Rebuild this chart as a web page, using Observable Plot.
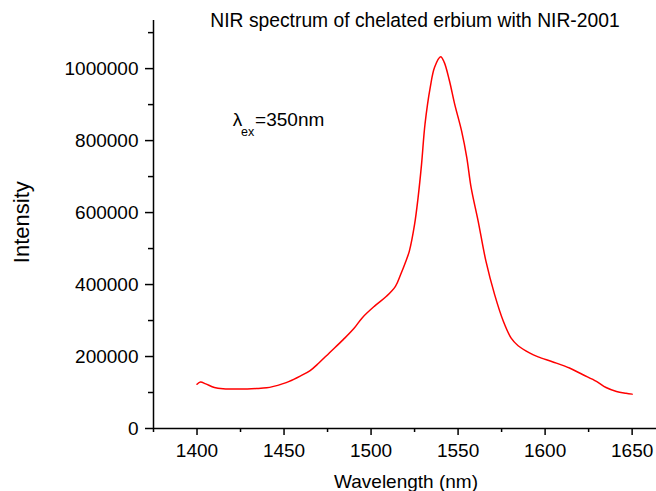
<!DOCTYPE html>
<html><head><meta charset="utf-8">
<script src="https://cdn.jsdelivr.net/npm/d3@7"></script>
<script src="https://cdn.jsdelivr.net/npm/@observablehq/plot@0.6"></script>
<style>html,body{margin:0;padding:0;background:#fff;}</style>
</head><body><div id="chart"></div>
<script>
const wavelength = [1400,1402,1405,1410,1415,1425,1434,1440,1444,1449,1453,1459,1465,1470,1476,1484,1490,1495,1502,1509,1514,1517,1520,1522,1525,1527,1529,1531,1534,1536.5,1540,1542,1545,1548,1552,1555,1557.5,1561.5,1566,1571,1576,1580.5,1584.5,1591,1596,1604.5,1614,1621.5,1629.5,1635,1641,1646.5,1650];
const intensity = [123000,129000,124000,114000,110500,109500,111000,113000,117000,124000,131000,145000,161000,182000,210000,247000,277000,308000,340000,368000,395000,428000,465000,493000,567000,641000,734000,846000,948000,1004000,1033000,1018000,967000,902000,827000,753000,669000,577000,465000,372000,298000,251000,230000,210000,199000,185000,168000,150000,131000,114000,103000,98000,95500];
const xMajorTicks = [1400,1450,1500,1550,1600,1650];
const xMinorTicks = [1375,1425,1475,1525,1575,1625];
const yMajorTicks = [0,200000,400000,600000,800000,1000000];
const yMinorTicks = [100000,300000,500000,700000,900000,1100000];
const titleText = ["NIR spectrum of chelated erbium with NIR-2001"];
const xLabel = ["Wavelength (nm)"];
const yLabel = ["Intensity"];
const annotX = [1420.5];
const annotY = [841200];
const annotMain = ["\u03bb"];
const annotSub = ["ex"];
const annotRest = ["=350nm"];

const data = wavelength.map((w, i) => ({w, v: intensity[i]}));
const annot = annotX.map((x, i) => ({x, y: annotY[i]}));
const font = "'Liberation Sans', Arial, Helvetica, sans-serif";

const chart = Plot.plot({
  width: 656, height: 491,
  marginLeft: 153, marginRight: 0, marginTop: 20, marginBottom: 63,
  style: {fontFamily: font, fontSize: "19px", background: "#fff", color: "#000"},
  x: {domain: [1375, 1664], axis: null},
  y: {domain: [0, 1133700], axis: null},
  marks: [
    Plot.axisX({ticks: xMajorTicks, tickSize: 7, tickPadding: 8, tickFormat: d => String(d), label: null, strokeWidth: 1.5, fontSize: 19, fill: "#000"}),
    Plot.axisX({ticks: xMinorTicks, tickSize: 4, tickFormat: () => "", label: null, strokeWidth: 1.5}),
    Plot.axisY({ticks: yMajorTicks, tickSize: 8, tickPadding: 7, tickFormat: d => String(d), label: null, strokeWidth: 1.5, fontSize: 19, fill: "#000"}),
    Plot.axisY({ticks: yMinorTicks, tickSize: 5, tickFormat: () => "", label: null, strokeWidth: 1.5}),
    Plot.ruleX([1375], {stroke: "#000", strokeWidth: 1.5}),
    Plot.ruleY([0], {stroke: "#000", strokeWidth: 1.5}),
    Plot.line(data, {x: "w", y: "v", stroke: "#ff0000", strokeWidth: 1.5, curve: "catmull-rom"}),
    Plot.text(titleText, {text: d => d, frameAnchor: "top", dx: 10, dy: 6.7, lineAnchor: "bottom", fontSize: 19.3, fill: "#000"}),
    Plot.text(xLabel, {text: d => d, frameAnchor: "bottom", dx: 1, dy: 59, lineAnchor: "bottom", fontSize: 19, fill: "#000"}),
    Plot.text(yLabel, {text: d => d, frameAnchor: "left", rotate: -90, dx: -125, dy: -2.3, textAnchor: "middle", lineAnchor: "bottom", fontSize: 22, fill: "#000"}),
    Plot.text(annot, {x: "x", y: "y", text: () => annotMain[0], textAnchor: "start", lineAnchor: "bottom", fontSize: 19, fill: "#000"}),
    Plot.text(annot, {x: "x", y: "y", text: () => annotSub[0], textAnchor: "start", lineAnchor: "bottom", dx: 8.4, dy: 10, fontSize: 12.5, fill: "#000"}),
    Plot.text(annot, {x: "x", y: "y", text: () => annotRest[0], textAnchor: "start", lineAnchor: "bottom", dx: 22.4, fontSize: 19, fill: "#000"})
  ]
});
document.getElementById("chart").appendChild(chart);
</script>
</body></html>
